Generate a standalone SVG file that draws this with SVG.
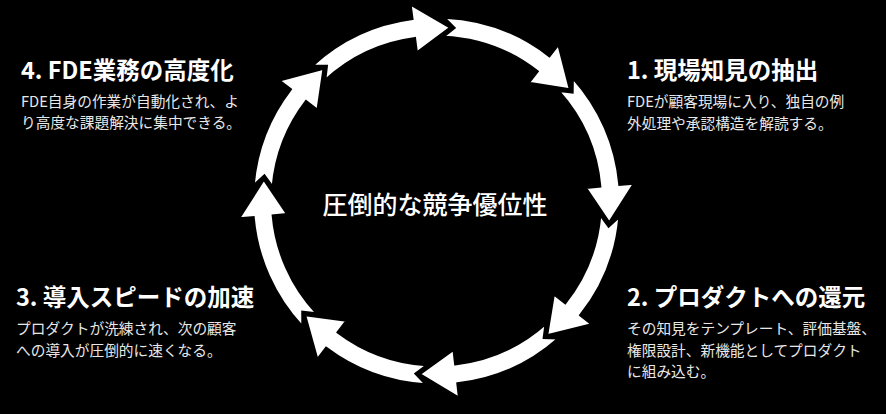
<svg xmlns="http://www.w3.org/2000/svg" width="886" height="414" viewBox="0 0 886 414">
<style>
.arr{fill:#fff;stroke:#000;stroke-width:2;stroke-linejoin:miter}
.t{font-family:"Noto Sans CJK JP","Noto Sans",sans-serif;fill:#fff}
.ttl{font-size:23.5px;font-weight:700}
.bd{font-size:14.7px;font-weight:400;fill:#e8e8e8}
.ctr{font-size:25px;font-weight:500;text-anchor:middle}
</style>
<rect width="886" height="414" fill="#000"/>
<g id="connectors">
<path class="arr" transform="translate(436.5 201) rotate(4.5)" d="M-134.20,-125.15 A183.5,183.5 0 0 1 -38.15,-179.49 L-41.17,-193.67 L0,-174 L-31.19,-146.72 L-34.20,-160.91 A164.5,164.5 0 0 0 -120.31,-112.19 L-119.77,-126.21 Z"/>
<path class="arr" transform="translate(436.5 201) rotate(50)" d="M-135.29,-123.97 A183.5,183.5 0 0 1 -38.15,-179.49 L-41.17,-193.67 L0,-174 L-31.19,-146.72 L-34.20,-160.91 A164.5,164.5 0 0 0 -121.28,-111.13 L-120.87,-125.17 Z"/>
<path class="arr" transform="translate(436.5 201) rotate(97)" d="M-138.49,-120.39 A183.5,183.5 0 0 1 -38.15,-179.49 L-41.17,-193.67 L0,-174 L-31.19,-146.72 L-34.20,-160.91 A164.5,164.5 0 0 0 -124.15,-107.92 L-124.11,-121.96 Z"/>
<path class="arr" transform="translate(436.5 201) rotate(140.5)" d="M-130.88,-128.62 A183.5,183.5 0 0 1 -38.15,-179.49 L-41.17,-193.67 L0,-174 L-31.19,-146.72 L-34.20,-160.91 A164.5,164.5 0 0 0 -117.33,-115.30 L-116.43,-129.31 Z"/>
<path class="arr" transform="translate(436.5 201) rotate(185.5)" d="M-134.20,-125.15 A183.5,183.5 0 0 1 -38.15,-179.49 L-41.17,-193.67 L0,-174 L-31.19,-146.72 L-34.20,-160.91 A164.5,164.5 0 0 0 -120.31,-112.19 L-119.77,-126.21 Z"/>
<path class="arr" transform="translate(436.5 201) rotate(229)" d="M-130.88,-128.62 A183.5,183.5 0 0 1 -38.15,-179.49 L-41.17,-193.67 L0,-174 L-31.19,-146.72 L-34.20,-160.91 A164.5,164.5 0 0 0 -117.33,-115.30 L-116.43,-129.31 Z"/>
<path class="arr" transform="translate(436.5 201) rotate(277)" d="M-140.57,-117.95 A183.5,183.5 0 0 1 -38.15,-179.49 L-41.17,-193.67 L0,-174 L-31.19,-146.72 L-34.20,-160.91 A164.5,164.5 0 0 0 -126.01,-105.74 L-126.21,-119.77 Z"/>
<path class="arr" transform="translate(436.5 201) rotate(319.5)" d="M-128.62,-130.88 A183.5,183.5 0 0 1 -38.15,-179.49 L-41.17,-193.67 L0,-174 L-31.19,-146.72 L-34.20,-160.91 A164.5,164.5 0 0 0 -115.30,-117.33 L-114.15,-131.32 Z"/>
</g>
<g id="center">
<text class="t ctr" x="435" y="214">圧倒的な競争優位性</text>
</g>
<g id="step1">
<text class="t ttl" x="627" y="79">1. 現場知見の抽出</text>
<text class="t bd" x="627" y="107">FDEが顧客現場に入り、独自の例</text>
<text class="t bd" x="627" y="129">外処理や承認構造を解読する。</text>
</g>
<g id="step2">
<text class="t ttl" x="627" y="306">2. プロダクトへの還元</text>
<text class="t bd" x="627" y="334">その知見をテンプレート、評価基盤、</text>
<text class="t bd" x="627" y="355.5">権限設計、新機能としてプロダクト</text>
<text class="t bd" x="627" y="377">に組み込む。</text>
</g>
<g id="step3">
<text class="t ttl" x="16" y="306">3. 導入スピードの加速</text>
<text class="t bd" x="16" y="334">プロダクトが洗練され、次の顧客</text>
<text class="t bd" x="16" y="356">への導入が圧倒的に速くなる。</text>
</g>
<g id="step4">
<text class="t ttl" x="21" y="79">4. FDE業務の高度化</text>
<text class="t bd" x="21" y="107">FDE自身の作業が自動化され、よ</text>
<text class="t bd" x="21" y="128">り高度な課題解決に集中できる。</text>
</g>
</svg>
